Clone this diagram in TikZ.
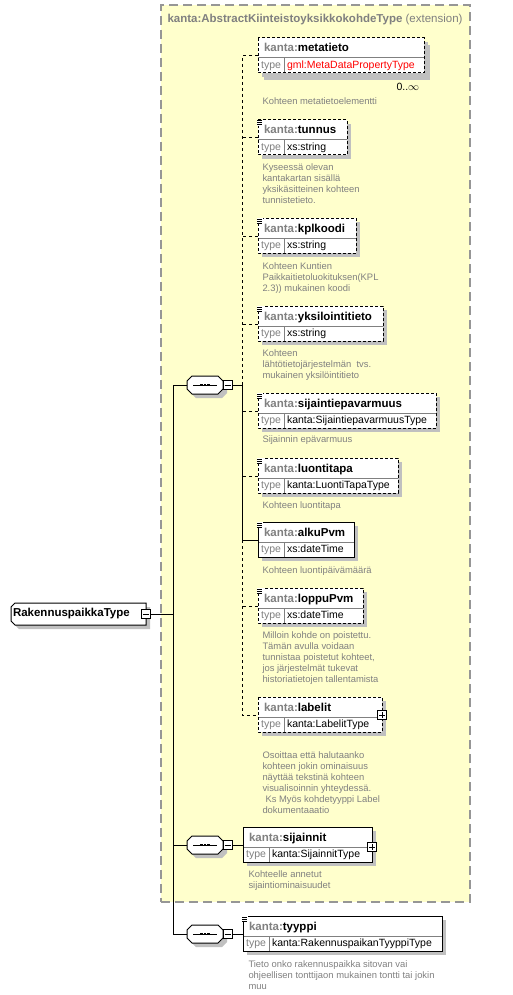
\documentclass[tikz,border=0pt]{standalone}
\usepackage{fontspec}
\setmainfont{Liberation Sans}
\usetikzlibrary{positioning}
\definecolor{xsgray}{RGB}{128,128,128}
\definecolor{xsyellow}{RGB}{255,255,204}
\definecolor{xsshade}{RGB}{192,192,192}
\definecolor{extgray}{RGB}{150,150,150}

\begin{document}
\begin{tikzpicture}[x=1pt,y=-1pt,line width=1pt,
  extbox/.style={draw=extgray,fill=xsyellow,line width=1.3pt,dash pattern=on 9pt off 5pt,anchor=north west,inner sep=0pt,outer sep=0pt,minimum width=309pt,minimum height=897pt},
  namecell/.style={fill=white,anchor=north west,minimum height=20pt,inner xsep=6pt,inner ysep=0pt,outer sep=0pt,align=left,text height=9.5pt,text depth=1.5pt,font=\fontsize{11.5}{13}\selectfont\bfseries},
  keycell/.style={fill=white,anchor=north west,minimum width=26pt,minimum height=15pt,inner sep=0pt,outer sep=0pt,text=xsgray,text height=8.5pt,text depth=2.5pt,font=\fontsize{10.5}{12}\selectfont},
  valcell/.style={fill=white,anchor=north west,minimum height=15pt,inner xsep=3pt,inner ysep=0pt,outer sep=0pt,align=left,text height=8.5pt,text depth=2.5pt,font=\fontsize{10.5}{12}\selectfont},
  optline/.style={dash pattern=on 3pt off 2pt},
  optlink/.style={dash pattern=on 3pt off 3pt},
  boxshade/.style={fill=xsshade},
  seqbox/.style={minimum width=36pt,minimum height=18pt,inner sep=0pt,outer sep=0pt},
  minusbox/.style={draw,fill=white,minimum width=9pt,minimum height=9pt,inner sep=0pt,outer sep=0pt,
    path picture={\draw ([xshift=-3pt]path picture bounding box.center) -- ([xshift=3pt]path picture bounding box.center);}},
  plusbox/.style={draw,fill=white,minimum width=9pt,minimum height=9pt,inner sep=0pt,outer sep=0pt,
    path picture={\draw ([xshift=-3pt]path picture bounding box.center) -- ([xshift=3pt]path picture bounding box.center);
      \draw ([yshift=-3pt]path picture bounding box.center) -- ([yshift=3pt]path picture bounding box.center);}},
  typebox/.style={anchor=west,minimum width=135pt,minimum height=22pt,inner xsep=2pt,inner ysep=0pt,outer sep=0pt,
    text width=131pt,align=left,font=\fontsize{11.5}{13}\selectfont\bfseries},
  desc/.style={anchor=north west,align=left,inner sep=0pt,text=xsgray,font=\fontsize{9.4}{11}\selectfont}]
\useasboundingbox (0,0) rectangle (512,995);

% extension base type
\node[extbox] (ext) at (161,5) {};
\node[anchor=base west,inner sep=0pt,text=xsgray,font=\fontsize{11.5}{13}\selectfont] (ext-title) at (167,23) {\textbf{kanta:AbstractKiinteistoyksikkokohdeType} (extension)};

% elements
\fill[boxshade] (264,45) rectangle (430,80);
\foreach \id/\x/\y/\w/\ty in {
  metatieto/258/38/166/{\textcolor{red}{gml:MetaDataPropertyType}},
  tunnus/258/120/89/xs:string,
  kplkoodi/258/218/98/xs:string,
  yksilointitieto/258/306/125/xs:string,
  sijaintiepavarmuus/258/393/178/kanta:SijaintiepavarmuusType,
  luontitapa/258/458/140/kanta:LuontiTapaType,
  alkuPvm/258/522/96/xs:dateTime,
  loppuPvm/258/588/105/xs:dateTime,
  labelit/258/697/124/kanta:LabelitType,
  sijainnit/243/827/129/kanta:SijainnitType,
  tyyppi/243/916/199/kanta:RakennuspaikanTyyppiType}
{
  \pgfmathsetmacro\tw{\w-12}
  \pgfmathsetmacro\vw{\w-32}
  \fill[boxshade] (\x+4,\y+4) rectangle ++(\w,35);
  \node[namecell,text width=\tw pt] (\id) at (\x,\y) {\textcolor{xsgray}{kanta:}\id};
  \node[keycell] (\id-k) at (\id.south west) {type};
  \node[valcell,text width=\vw pt] (\id-v) at (\id-k.north east) {\ty};
  \draw[xsgray] (\id.south west) -- (\id.south east);
  \draw[xsgray] (\id-k.north east) -- (\id-k.south east);
  \draw[optline] (\id.north west) rectangle (\id-v.south east);
}
\foreach \id in {alkuPvm,sijainnit,tyyppi}
  \draw (\id.north west) rectangle (\id-v.south east);
\foreach \id in {tunnus,kplkoodi,yksilointitieto,sijaintiepavarmuus,luontitapa,alkuPvm,loppuPvm,tyyppi} {
  \fill[white] ([shift={(-1,0)}]\id.north west) rectangle ++(6,6);
  \foreach \k in {1,3,5} \draw ([shift={(-1,\k)}]\id.north west) -- ++(5,0);
}
\node[plusbox] (labelit-p) at ([yshift=2pt]labelit.south east) {};
\node[plusbox] (sijainnit-p) at (sijainnit.south east) {};
\node[anchor=base west,inner sep=0pt,font=\fontsize{10.5}{12}\selectfont] (metatieto-n) at (396,91) {0..$\infty$};

% annotations
\foreach \id/\x/\y/\txt in {
  metatieto/262/101/{Kohteen metatietoelementti},
  tunnus/262/167/{Kyseessä olevan\\kantakartan sisällä\\yksikäsitteinen kohteen\\tunnistetieto.},
  kplkoodi/262/266/{Kohteen Kuntien\\Paikkaitietoluokituksen(KPL\\2.3)) mukainen koodi},
  yksilointitieto/262/353/{Kohteen\\lähtötietojärjestelmän\ \ tvs.\\mukainen yksilöintitieto},
  sijaintiepavarmuus/262/439/{Sijainnin epävarmuus},
  luontitapa/262/505/{Kohteen luontitapa},
  alkuPvm/262/570/{Kohteen luontipäivämäärä},
  loppuPvm/262/635/{Milloin kohde on poistettu.\\Tämän avulla voidaan\\tunnistaa poistetut kohteet,\\jos järjestelmät tukevat\\historiatietojen tallentamista},
  labelit/262/755/{Osoittaa että halutaanko\\kohteen jokin ominaisuus\\näyttää tekstinä kohteen\\visualisoinnin yhteydessä.\\\hspace*{3pt}Ks Myös kohdetyyppi Label\\dokumentaaatio},
  sijainnit/248/874/{Kohteelle annetut\\sijaintiominaisuudet},
  tyyppi/248/964/{Tieto onko rakennuspaikka sitovan vai\\ohjeellisen tonttijaon mukainen tontti tai jokin\\muu}}
  \node[desc] (\id-doc) at (\x,\y-4.7) {\strut\txt};

% compositors and the complex type
\foreach \s/\y in {seq1/385,seq2/845,seq3/934} {
  \fill[boxshade] (209,\y+4) +(-13,-9) -- +(13,-9) -- +(18,-4) -- +(18,4) -- +(13,9) -- +(-13,9) -- +(-18,4) -- +(-18,-4) -- cycle;
  \filldraw[fill=white] (205,\y) +(-13,-9) -- +(13,-9) -- +(18,-4) -- +(18,4) -- +(13,9) -- +(-13,9) -- +(-18,4) -- +(-18,-4) -- cycle;
  \node[seqbox] (\s) at (205,\y) {};
  \node[minusbox,right=0pt of \s] (\s-m) {};
  \draw ([xshift=-12pt]\s.center) -- ([xshift=12pt]\s.center);
  \foreach \d in {-3.6,0,3.6} \fill ([xshift=\d pt]\s.center) +(-1.3,-1.4) rectangle +(1.3,1.4);
}
\fill[boxshade] (19,607) -- (150,607) -- (150,629) -- (19,629) -- (15,625) -- (15,611) -- cycle;
\filldraw[fill=white] (15,603) -- (146,603) -- (146,625) -- (15,625) -- (11,621) -- (11,607) -- cycle;
\node[typebox] (rpt) at (11,614) {RakennuspaikkaType};
\node[minusbox] (rpt-m) at (rpt.east) {};

% connectors
\coordinate (trunk) at (173,0);
\coordinate (bus) at (242,0);
\draw (rpt-m.east) -- (rpt-m.east -| trunk);
\draw (seq1.west) -| (seq3.west -| trunk) -- (seq3.west);
\draw (seq2.west) -- (seq2.west -| trunk);
\draw (seq2-m.east) -- (seq2-m.east -| sijainnit.west);
\draw (seq3-m.east) -- (seq3-m.east -| tyyppi.west);
\draw[optlink] ([yshift=2pt]metatieto.south west) -| (seq1-m.east -| bus);
\draw (seq1-m.east) -| ([yshift=2pt]alkuPvm.south west -| bus) -- ([yshift=2pt]alkuPvm.south west);
\draw[optlink] ([yshift=2pt]alkuPvm.south west -| bus) |- ([yshift=2pt]labelit.south west);
\foreach \id in {tunnus,kplkoodi,yksilointitieto,sijaintiepavarmuus,luontitapa,loppuPvm}
  \draw[optlink] ([yshift=2pt]\id.south west) -- ([yshift=2pt]\id.south west -| bus);
\end{tikzpicture}
\end{document}
